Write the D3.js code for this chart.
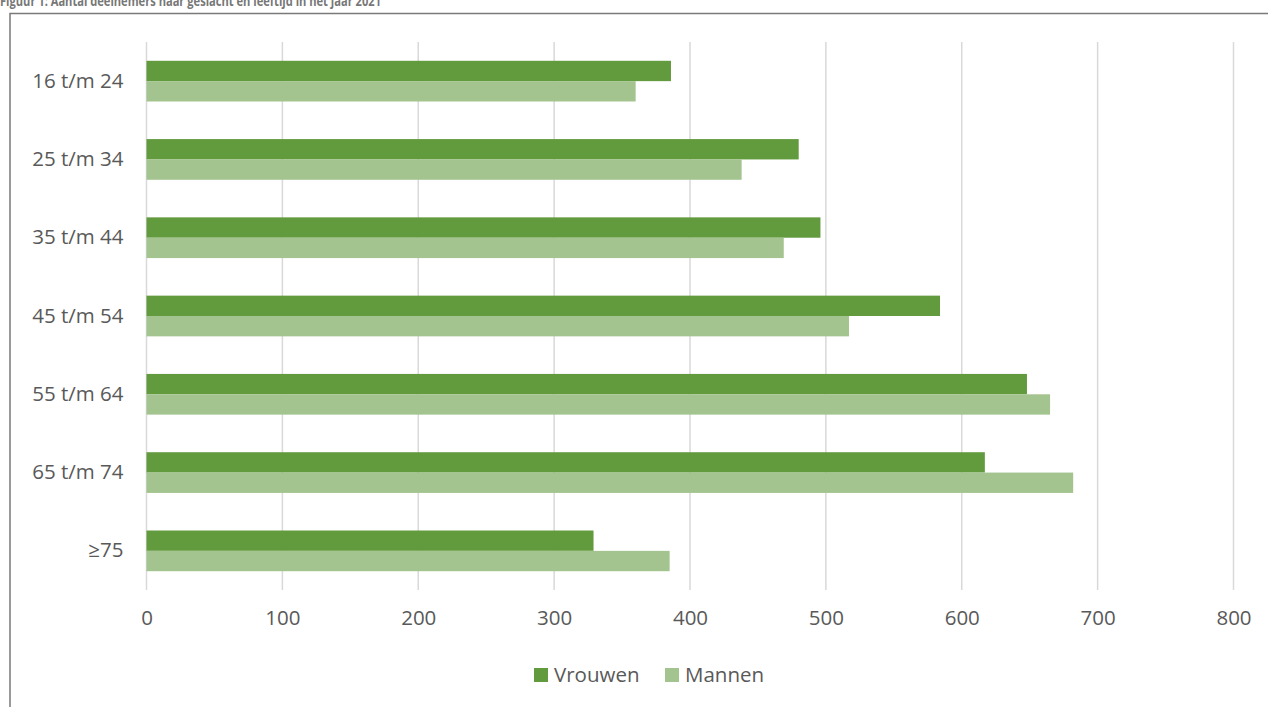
<!DOCTYPE html>
<html>
<head>
<meta charset="utf-8">
<script src="https://cdn.jsdelivr.net/npm/d3@7"></script>
<style>
  html, body { margin: 0; padding: 0; background: #fff; }
  svg { display: block; }
  text { font-family: "Open Sans", sans-serif; }
</style>
</head>
<body>
<svg id="chart" width="1268" height="707"></svg>
<script>
const title = "Figuur 1: Aantal deelnemers naar geslacht en leeftijd in het jaar 2021";
const categories = ["16 t/m 24", "25 t/m 34", "35 t/m 44", "45 t/m 54", "55 t/m 64", "65 t/m 74", "≥75"];
const seriesNames = ["Vrouwen", "Mannen"];
const vrouwen = [386, 480, 496, 584, 648, 617, 329];
const mannen = [360, 438, 469, 517, 665, 682, 385];
const xTicks = [0, 100, 200, 300, 400, 500, 600, 700, 800];
const colors = ["#629a3e", "#a3c48f"];

const svg = d3.select("#chart");
const W = 1268, H = 707;
const FONT = "'Open Sans', sans-serif";
const FS = 20.5;

// Title (clipped at top like reference)
svg.append("text")
  .attr("x", 0).attr("y", 5.5)
  .attr("font-size", 13.5).attr("font-weight", "bold")
  .attr("fill", "#777777")
  .attr("textLength", 381).attr("lengthAdjust", "spacingAndGlyphs")
  .text(title);

// frame
svg.append("path")
  .attr("d", `M10,${H} V13.5 H${W}`)
  .attr("fill", "none").attr("stroke", "#7a7a7a").attr("stroke-width", 1.5);

const margin = { left: 146.5, right: 1233.5, top: 42, bottom: 590 };
const x = d3.scaleLinear().domain([0, 800]).range([margin.left, margin.right]);
const y0 = d3.scaleBand().domain(categories).range([margin.top, margin.bottom]).paddingInner(0.48).paddingOuter(0.24);
const y1 = d3.scaleBand().domain(seriesNames).range([0, y0.bandwidth()]);

// gridlines
svg.append("g").selectAll("line").data(xTicks).join("line")
  .attr("x1", d => x(d)).attr("x2", d => x(d))
  .attr("y1", margin.top).attr("y2", margin.bottom)
  .attr("stroke", "#d9d9d9").attr("stroke-width", 1.5);

// bars
const data = categories.map((c, i) => ({ cat: c, values: [vrouwen[i], mannen[i]] }));
const g = svg.append("g").selectAll("g").data(data).join("g")
  .attr("transform", d => `translate(0,${y0(d.cat)})`);
g.selectAll("rect").data(d => d.values.map((v, j) => ({ v, s: seriesNames[j], j })))
  .join("rect")
  .attr("x", x(0))
  .attr("y", d => y1(d.s))
  .attr("width", d => x(d.v) - x(0))
  .attr("height", y1.bandwidth())
  .attr("fill", d => colors[d.j]);

// y axis labels
const yAxis = d3.axisLeft(y0).tickSize(0).tickPadding(0);
const ya = svg.append("g").attr("transform", `translate(${margin.left - 23},0)`).call(yAxis);
ya.select(".domain").remove();
ya.selectAll("text").attr("font-size", FS).attr("fill", "#595959")
  .attr("font-family", FONT);

// x axis labels
const xAxis = d3.axisBottom(x).tickValues(xTicks).tickSize(0).tickPadding(0);
const xa = svg.append("g").attr("transform", `translate(0,${margin.bottom + 20})`).call(xAxis);
xa.select(".domain").remove();
xa.selectAll("text").attr("font-size", FS).attr("fill", "#595959")
  .attr("font-family", FONT);

// legend
const legend = svg.append("g");
const legendItems = [{ name: seriesNames[0], x: 534, c: colors[0] }, { name: seriesNames[1], x: 665, c: colors[1] }];
legendItems.forEach(it => {
  legend.append("rect").attr("x", it.x).attr("y", 668).attr("width", 14).attr("height", 14).attr("fill", it.c);
  legend.append("text").attr("x", it.x + 20).attr("y", 682)
    .attr("font-size", FS).attr("fill", "#595959").text(it.name);
});
</script>
</body>
</html>
